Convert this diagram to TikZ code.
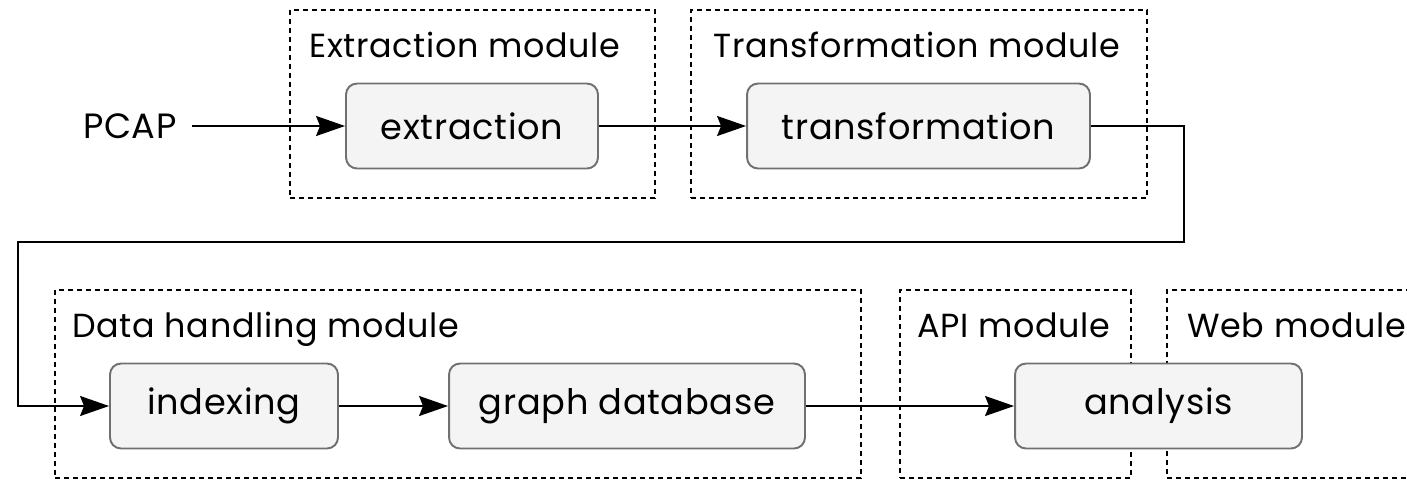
\documentclass[tikz,border=0pt]{standalone}
\usepackage{fontspec}
\setmainfont{Poppins}[LetterSpace=2]
\usetikzlibrary{positioning, arrows.meta, calc}
\definecolor{boxfill}{RGB}{244,244,244}
\definecolor{boxline}{RGB}{112,112,112}
\tikzset{
    stage/.style={rectangle, rounded corners=0.22cm, draw=boxline, fill=boxfill, line width=1.1pt, minimum height=1.7cm, align=center, font=\fontsize{20}{24}\selectfont, inner sep=0pt},
    modbox/.style={rectangle, draw=black, dash pattern=on 0.1cm off 0.08cm, line width=1.1pt, minimum height=3.76cm, inner sep=0pt},
    modlbl/.style={anchor=base west, font=\fontsize{19}{23}\selectfont, inner sep=0pt},
    arr/.style={-{Stealth[length=0.58cm, width=0.4cm, inset=0.08cm]}, line width=1.1pt, color=black}
}
\begin{document}
\begin{tikzpicture}[x=0.02cm, y=-0.02cm]
        \useasboundingbox (0,0) rectangle (1407,481);
        \clip (0,0) rectangle (1407,481);

        % Module frames (Top Row)
        \node[modbox, minimum width=7.3cm] (extmod) at (472.5, 104) {};
        \node[modlbl] (extlbl) at (309, 57) {Extraction module};
        \node[modbox, minimum width=9.12cm] (trfmod) at (919, 104) {};
        \node[modlbl] (trflbl) at (713, 57) {Transformation module};

        % Module frames (Bottom Row)
        \node[modbox, minimum width=16.12cm] (datmod) at (458, 384) {};
        \node[modlbl] (datlbl) at (72, 337) {Data handling module};
        \node[modbox, minimum width=4.62cm] (apimod) at (1015.5, 384) {};
        \node[modlbl] (apilbl) at (917, 337) {API module};
        \node[modbox, minimum width=5.6cm] (webmod) at (1307, 384) {};
        \node[modlbl] (weblbl) at (1187, 337) {Web module};

        % Processing stages
        \node[font=\fontsize{20}{24}\selectfont, inner sep=0pt, anchor=east] (pcap) at (177, 126) {PCAP};
        \node[stage, minimum width=5.04cm] (extraction) at (472, 126) {extraction};
        \node[stage, minimum width=6.86cm] (transformation) at (918.5, 126) {transformation};
        \node[stage, minimum width=4.56cm] (indexing) at (224, 406) {indexing};
        \node[stage, minimum width=7.12cm] (graphdb) at (627, 406) {graph database};
        \node[stage, minimum width=5.74cm] (analysis) at (1158.5, 406) {analysis};

        % Flow
        \coordinate (bendR) at (1184, 242);
        \coordinate (bendL) at (18, 242);
        \draw[arr] ([xshift=0.3cm]pcap.east) -- (extraction.west);
        \draw[arr] (extraction.east) -- (transformation.west);
        \draw[arr] (transformation.east) -| (bendR) -- (bendL) |- (indexing.west);
        \draw[arr] (indexing.east) -- (graphdb.west);
        \draw[arr] (graphdb.east) -- (analysis.west);

    \end{tikzpicture}
\end{document}
